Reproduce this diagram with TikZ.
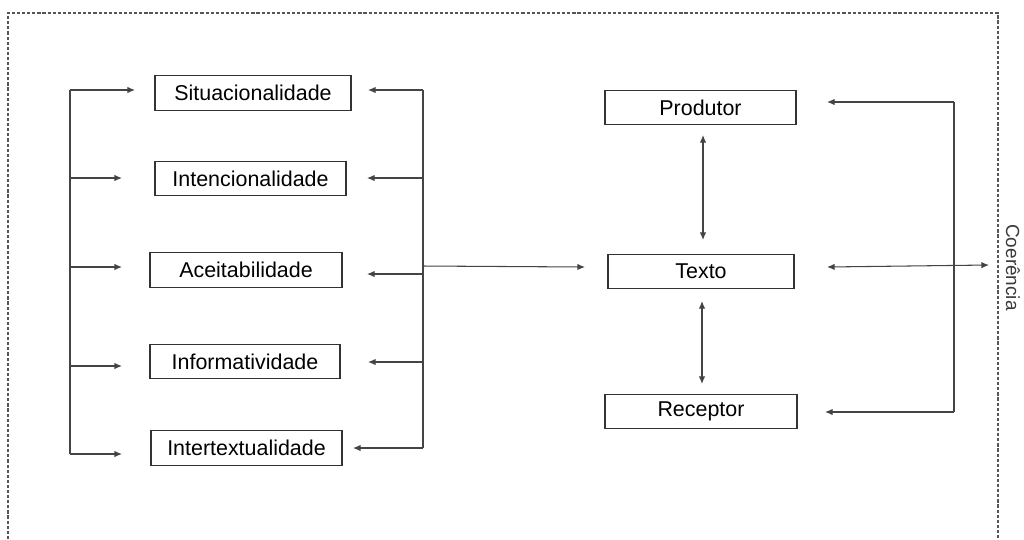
\documentclass[tikz,border=0pt]{standalone}
\usepackage{fontspec}
\setmainfont{Liberation Sans}
\usetikzlibrary{arrows.meta}
\definecolor{linegray}{HTML}{444444}
\definecolor{framegray}{HTML}{555555}
\definecolor{boxline}{HTML}{333333}
\definecolor{txtgray}{HTML}{3A3A3A}
\tikzset{
  box/.style={draw=boxline, line width=0.7pt, rectangle, inner sep=0pt, minimum height=0.69cm,
    font=\fontsize{12.2}{14}\selectfont, text=black},
  conn/.style={draw=linegray, line width=0.6pt},
  arr/.style={conn, -{Latex[length=4.3pt,width=3.6pt]}},
  darr/.style={conn, {Latex[length=4.3pt,width=3.6pt]}-{Latex[length=4.3pt,width=3.6pt]}},
  border/.style={draw=framegray, line width=0.6pt, dash pattern=on 1.8pt off 1.1pt},
}
\begin{document}
\begin{tikzpicture}[x=0.02cm, y=-0.02cm]
\useasboundingbox (0,0) rectangle (1024,539);
% dashed frame
\draw[border] (8,539) -- (8,13) -- (998,13) -- (998,539);

% boxes
\node[box, minimum width=3.92cm] (sit) at (253,93) {Situacionalidade};
\node[box, minimum width=3.82cm] (int) at (250.5,178.5) {Intencionalidade};
\node[box, minimum width=3.84cm] (ace) at (246,270) {Aceitabilidade};
\node[box, minimum width=3.80cm] (inf) at (245,361.5) {Informatividade};
\node[box, minimum width=3.82cm] (ite) at (246.5,448) {Intertextualidade};
\node[box, minimum width=3.82cm] (pro) at (700.5,107.5) {Produtor};
\node[box, minimum width=3.72cm] (tex) at (701,271.5) {Texto};
\node[box, minimum width=3.84cm] (rec) at (701,411.5) {Receptor};
\node[rotate=-90, font=\fontsize{10.8}{12}\selectfont, text=txtgray] (coe) at (1013,267.5) {Coerência};

% left bracket
\coordinate (l1) at (70,90);  \coordinate (l1t) at (135,90);
\coordinate (l2) at (70,178); \coordinate (l2t) at (122,178);
\coordinate (l3) at (70,267); \coordinate (l3t) at (122,267);
\coordinate (l4) at (70,366); \coordinate (l4t) at (122,366);
\coordinate (l5) at (70,454); \coordinate (l5t) at (122,454);
\draw[conn] (l1) -- (l5);
\draw[arr] (l1) -- (l1t);
\draw[arr] (l2) -- (l2t);
\draw[arr] (l3) -- (l3t);
\draw[arr] (l4) -- (l4t);
\draw[arr] (l5) -- (l5t);

% right bracket of left group
\coordinate (r1) at (423,90);  \coordinate (r1t) at (368,90);
\coordinate (r2) at (423,178); \coordinate (r2t) at (367,178);
\coordinate (r3) at (423,274); \coordinate (r3t) at (367,274);
\coordinate (r4) at (423,362); \coordinate (r4t) at (368,362);
\coordinate (r5) at (423,448); \coordinate (r5t) at (353,448);
\coordinate (rm) at (423,266); \coordinate (rmt) at (585,267);
\draw[conn] (r1) -- (r5);
\draw[arr] (r1) -- (r1t);
\draw[arr] (r2) -- (r2t);
\draw[arr] (r3) -- (r3t);
\draw[arr] (r4) -- (r4t);
\draw[arr] (r5) -- (r5t);
\draw[arr] (rm) -- (rmt);

% centre column
\coordinate (c1) at (703,135); \coordinate (c2) at (703,240);
\coordinate (c3) at (702,301); \coordinate (c4) at (702,384);
\draw[darr] (c1) -- (c2);
\draw[darr] (c3) -- (c4);

% right bracket
\coordinate (q1) at (954,102); \coordinate (q1t) at (827,102);
\coordinate (q2) at (954,412); \coordinate (q2t) at (825,412);
\coordinate (qa) at (827,267); \coordinate (qb) at (989,265);
\draw[conn] (q1) -- (q2);
\draw[arr] (q1) -- (q1t);
\draw[arr] (q2) -- (q2t);
\draw[darr] (qa) -- (qb);
\end{tikzpicture}
\end{document}
